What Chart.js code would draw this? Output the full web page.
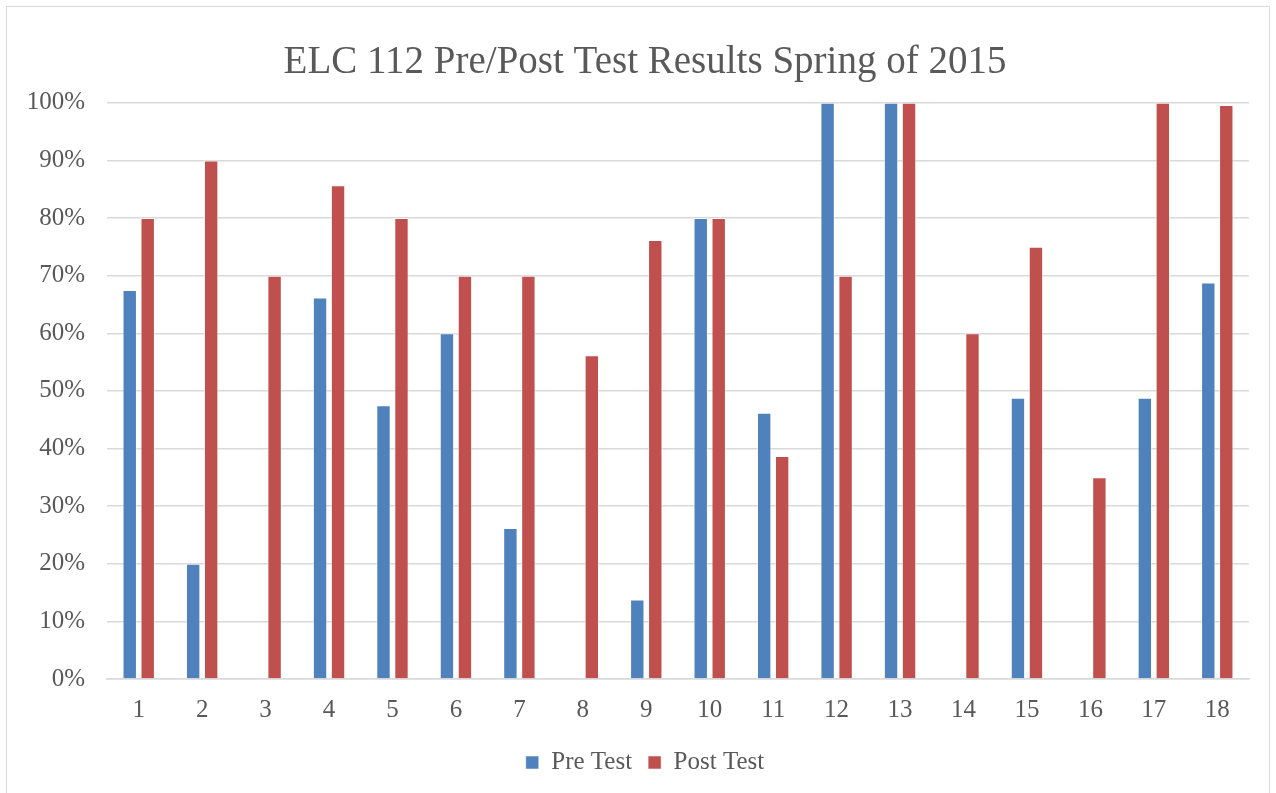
<!DOCTYPE html>
<html>
<head>
<meta charset="utf-8">
<script src="https://cdn.jsdelivr.net/npm/chart.js@4/dist/chart.umd.min.js"></script>
<style>
  html, body { margin: 0; padding: 0; background: #fff; overflow: hidden; }
  #frame {
    position: absolute; left: 6px; top: 6px;
    width: 1262px; height: 800px;
    border: 1.5px solid #d9d9d9; background: #fff;
  }
  #wrap { position: relative; width: 1262px; height: 778px; }
</style>
</head>
<body>
<div id="frame"><div id="wrap"><canvas id="chartBar"></canvas></div></div>
<script>
// Datos (porcentaje por estudiante)
const CATEGORIES = ["1","2","3","4","5","6","7","8","9","10","11","12","13","14","15","16","17","18"];
const PRE_TEST  = [67.5, 20, 0, 66.2, 47.5, 60, 26.2, 0, 13.8, 80, 46.2, 100, 100, 0, 48.8, 0, 48.8, 68.8];
const POST_TEST = [80, 90, 70, 85.7, 80, 70, 70, 56.2, 76.2, 80, 38.7, 70, 100, 60, 75, 35, 100, 99.6];
const SERIES_NAMES = ["Pre Test", "Post Test"];
const TITLE = "ELC 112 Pre/Post Test Results Spring of 2015";

const TEXT = "#595959";
const GRID = "#d9d9d9";
const FONT = "'Liberation Serif', 'Times New Roman', serif";

// El padding izquierdo centra título y leyenda; el eje Y necesita más sitio para "100%"
const yLabelRoom = {
  id: "yLabelRoom",
  afterLayout(chart) { chart.scales.y.left = 0; }
};

function start() {
  const ctx = document.getElementById("chartBar");
  new Chart(ctx, {
    type: "bar",
    data: {
      labels: CATEGORIES,
      datasets: [
        { label: SERIES_NAMES[0], data: PRE_TEST, backgroundColor: "#4f81bd",
          borderColor: "rgba(255,255,255,0.5)", borderWidth: 1,
          categoryPercentage: 0.567, barPercentage: 0.8 },
        { label: SERIES_NAMES[1], data: POST_TEST, backgroundColor: "#c0504d",
          borderColor: "rgba(255,255,255,0.5)", borderWidth: 1,
          categoryPercentage: 0.567, barPercentage: 0.8 }
      ]
    },
    options: {
      responsive: true,
      maintainAspectRatio: false,
      animation: false,
      layout: { padding: { left: 34, right: 20, top: 0, bottom: 0 } },
      scales: {
        x: {
          grid: { display: false },
          border: { display: true, color: GRID, width: 1.5 },
          ticks: { color: TEXT, font: { family: FONT, size: 25, lineHeight: 1 }, padding: 11, maxRotation: 0 }
        },
        y: {
          min: 0, max: 100,
          afterFit(scale) { scale.width = 66; },
          grid: { color: GRID, lineWidth: 1.5, drawTicks: false },
          border: { display: false },
          ticks: {
            stepSize: 10, padding: 22, color: TEXT,
            font: { family: FONT, size: 25 },
            callback: v => v + "%"
          }
        }
      },
      plugins: {
        title: {
          display: true, text: TITLE, color: TEXT,
          font: { family: FONT, size: 39, weight: "normal" },
          padding: { top: 32, bottom: 17 }
        },
        legend: {
          position: "bottom",
          labels: {
            color: TEXT, boxWidth: 13, boxHeight: 13, padding: 16,
            font: { family: FONT, size: 25 }
          }
        },
        tooltip: { enabled: false }
      }
    },
    plugins: [yLabelRoom]
  });
}

document.addEventListener("DOMContentLoaded", start);
</script>
</body>
</html>
